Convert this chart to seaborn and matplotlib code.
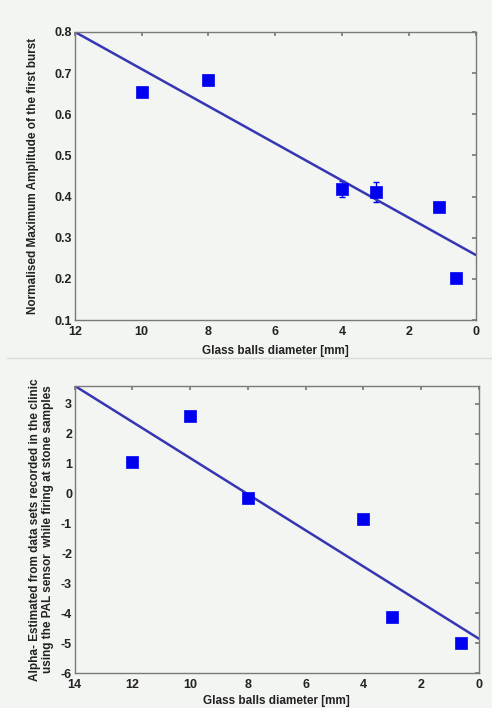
import matplotlib
matplotlib.use("Agg")
import matplotlib.pyplot as plt
import seaborn as sns
import numpy as np
import pandas as pd

sns.set_theme(style="white")
plt.rcParams['font.family'] = ['Liberation Sans', 'DejaVu Sans']
plt.rcParams['font.weight'] = 'bold'

# Top panel data
top_diam = [10, 8, 4, 3, 1.1, 0.6]
top_amp = [0.655, 0.682, 0.418, 0.411, 0.374, 0.202]
top_err = [0.008, 0.012, 0.020, 0.025, 0.008, 0.004]
top_fit_x = [12, 0]
top_fit_y = [0.800, 0.258]

# Bottom panel data
bot_diam = [12, 10, 8, 4, 3, 0.6]
bot_alpha = [1.05, 2.58, -0.15, -0.85, -4.12, -5.0]
bot_fit_x = [14, 0]
bot_fit_y = [3.60, -4.85]

top_yticks = [0.1, 0.2, 0.3, 0.4, 0.5, 0.6, 0.7, 0.8]
top_xticks = [12, 10, 8, 6, 4, 2, 0]
bot_yticks = [-6, -5, -4, -3, -2, -1, 0, 1, 2, 3]
bot_xticks = [14, 12, 10, 8, 6, 4, 2, 0]

bg = '#f2f5f1'
line_c = '#3636b4'
mark_c = '#0000f0'
spine_c = '#7a7a7a'
txt_c = '#222222'
fs = 8.5

fig = plt.figure(figsize=(4.92, 7.08), dpi=100, facecolor=bg)
ax1 = fig.add_axes([0.152, 0.548, 0.815, 0.407])
ax2 = fig.add_axes([0.152, 0.0494, 0.821, 0.4056])

# separator line
fig.add_artist(plt.Line2D([0.014, 1.0], [0.494, 0.494], color='#d8dcd8', lw=1))

def style(ax):
    ax.set_facecolor(bg)
    for s in ax.spines.values():
        s.set_color(spine_c)
        s.set_linewidth(1.0)
    ax.tick_params(direction='in', length=3, color=spine_c, top=True, right=True,
                   labelsize=9, labelcolor=txt_c)
    ax.tick_params(axis='x', pad=4)
    ax.tick_params(axis='y', pad=2)
    for lab in ax.get_xticklabels() + ax.get_yticklabels():
        lab.set_fontweight('bold')

# Top
df_top = pd.DataFrame({'d': top_diam, 'a': top_amp})
ax1.errorbar(top_diam, top_amp, yerr=top_err, fmt='none', ecolor=mark_c, elinewidth=1, capsize=2.5)
sns.scatterplot(data=df_top, x='d', y='a', marker='s', s=65, color=mark_c, edgecolor=mark_c, linewidth=0.5, ax=ax1, zorder=3)
sns.lineplot(x=top_fit_x, y=top_fit_y, color=line_c, lw=1.8, ax=ax1, zorder=2)
ax1.set_xlim(12, 0)
ax1.set_ylim(0.1, 0.8)
ax1.set_xticks(top_xticks)
ax1.set_yticks(top_yticks)
ax1.set_xticklabels([str(t) for t in top_xticks])
ax1.set_yticklabels([f'{t:.1f}' for t in top_yticks])
ax1.set_xlabel('Glass balls diameter [mm]', fontsize=fs, fontweight='bold', color=txt_c, labelpad=5)
ax1.set_ylabel('Normalised Maximum Amplitude of the first burst', fontsize=fs, fontweight='bold', color=txt_c, labelpad=11)
style(ax1)

# Bottom
df_bot = pd.DataFrame({'d': bot_diam, 'a': bot_alpha})
sns.scatterplot(data=df_bot, x='d', y='a', marker='s', s=65, color=mark_c, edgecolor=mark_c, linewidth=0.5, ax=ax2, zorder=3)
sns.lineplot(x=bot_fit_x, y=bot_fit_y, color=line_c, lw=1.8, ax=ax2, zorder=2)
ax2.set_xlim(14, 0)
ax2.set_ylim(-6, 3.6)
ax2.set_xticks(bot_xticks)
ax2.set_yticks(bot_yticks)
ax2.set_xticklabels([str(t) for t in bot_xticks])
ax2.set_yticklabels([str(t) for t in bot_yticks])
ax2.set_xlabel('Glass balls diameter [mm]', fontsize=fs, fontweight='bold', color=txt_c, labelpad=3)
ax2.set_ylabel('Alpha- Estimated from data sets recorded in the clinic\nusing the PAL sensor  while firing at stone samples',
               fontsize=fs, fontweight='bold', color=txt_c, labelpad=5, linespacing=1.05)
style(ax2)

fig.savefig('out.png', dpi=100, facecolor=bg)
